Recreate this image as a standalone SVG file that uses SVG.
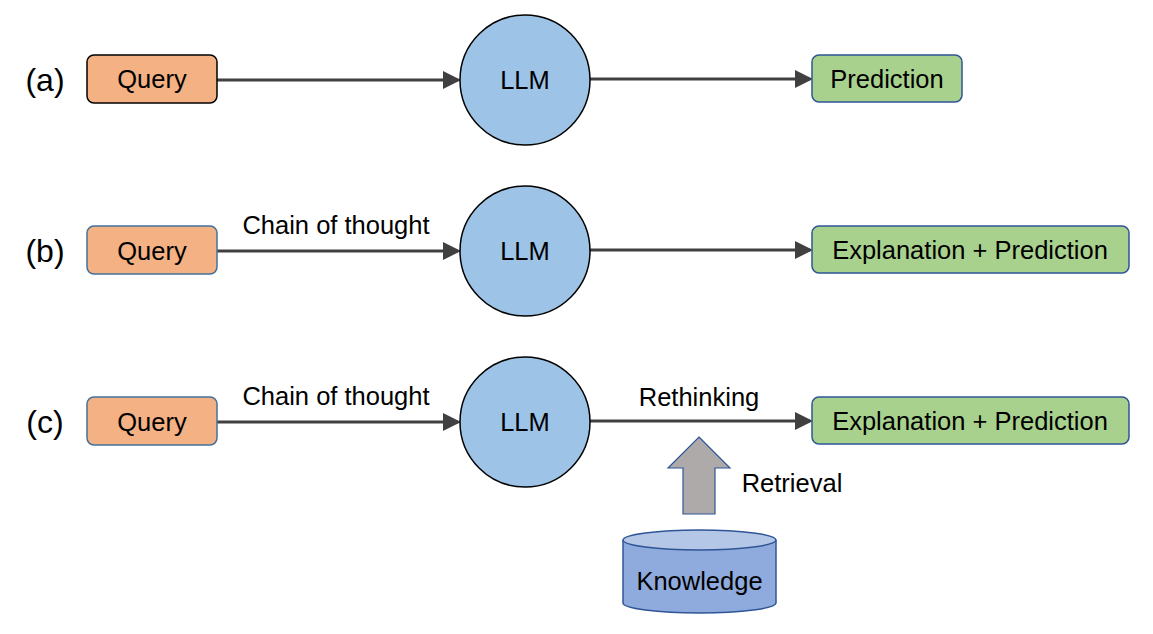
<svg xmlns="http://www.w3.org/2000/svg" width="1153" height="634" viewBox="0 0 1153 634">
<style>
text{font-family:"Liberation Sans",Arial,sans-serif;fill:#000;}
.q{fill:#F4B183;stroke:#41719C;stroke-width:1.5;}
.p{fill:#A9D18E;stroke:#2F5597;stroke-width:1.5;}
.llm{fill:#9DC3E6;stroke:#000;stroke-width:1.5;}
.t{font-size:25.5px;text-anchor:middle;dominant-baseline:central;}
.lbl{font-size:32px;text-anchor:middle;dominant-baseline:central;}
.e{stroke:#404040;stroke-width:3;fill:none;marker-end:url(#ah);}
</style>
<defs>
<marker id="ah" markerWidth="6" markerHeight="6" refX="5" refY="3" orient="auto" markerUnits="strokeWidth">
<path d="M0,0 L6,3 L0,6 z" fill="#404040"/>
</marker>
</defs>
<g id="connectors">
<line class="e" x1="217" y1="80" x2="458" y2="80"/>
<line class="e" x1="590" y1="79" x2="810" y2="79"/>
<line class="e" x1="217" y1="251" x2="458" y2="251"/>
<line class="e" x1="590" y1="250" x2="810" y2="250"/>
<line class="e" x1="217" y1="422" x2="458" y2="422"/>
<line class="e" x1="590" y1="421" x2="810" y2="421"/>
<text class="t" x="336" y="225">Chain of thought</text>
<text class="t" x="336" y="396">Chain of thought</text>
<text class="t" x="699" y="397">Rethinking</text>
</g>
<g id="labels">
<text class="lbl" x="45" y="80">(a)</text>
<text class="lbl" x="45" y="251">(b)</text>
<text class="lbl" x="45" y="422">(c)</text>
</g>
<g id="query-a"><rect class="q" x="87" y="55" width="130" height="48" rx="7" style="stroke:#000"/><text class="t" x="152" y="79">Query</text></g>
<g id="llm-a"><circle class="llm" cx="525" cy="80" r="65"/><text class="t" x="525" y="80">LLM</text></g>
<g id="pred-a"><rect class="p" x="812" y="55" width="150" height="47" rx="7"/><text class="t" x="887" y="79">Prediction</text></g>
<g id="query-b"><rect class="q" x="87" y="226" width="130" height="48" rx="7"/><text class="t" x="152" y="251">Query</text></g>
<g id="llm-b"><circle class="llm" cx="525" cy="251" r="65"/><text class="t" x="525" y="251">LLM</text></g>
<g id="pred-b"><rect class="p" x="812" y="226" width="317" height="47" rx="7"/><text class="t" x="970" y="250">Explanation + Prediction</text></g>
<g id="query-c"><rect class="q" x="87" y="397" width="130" height="48" rx="7"/><text class="t" x="152" y="422">Query</text></g>
<g id="llm-c"><circle class="llm" cx="525" cy="422" r="65"/><text class="t" x="525" y="422">LLM</text></g>
<g id="pred-c"><rect class="p" x="812" y="397" width="317" height="47" rx="7"/><text class="t" x="970" y="421">Explanation + Prediction</text></g>
<g id="retrieval">
<path d="M699,437 L730,468 L715,468 L715,514 L683,514 L683,468 L668,468 Z" fill="#AEAAAA" stroke="#2F5597" stroke-width="1.2"/>
<text class="t" x="792" y="483">Retrieval</text>
</g>
<g id="knowledge">
<path d="M623,540 L623,603 A76.5,10 0 0 0 776,603 L776,540" fill="#8FAADC" stroke="#2F5597" stroke-width="1.5"/>
<ellipse cx="699.5" cy="540" rx="76.5" ry="10" fill="#B4C7E7" stroke="#2F5597" stroke-width="1.5"/>
<text class="t" x="699.5" y="581">Knowledge</text>
</g>
</svg>
